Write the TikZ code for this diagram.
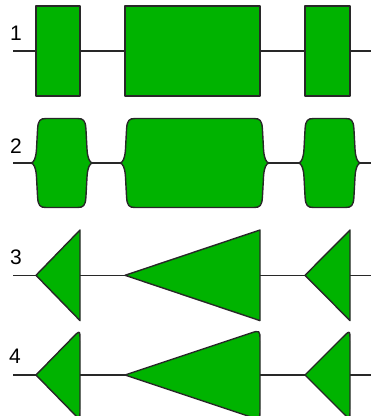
\documentclass[tikz,border=0pt]{standalone}
\usepackage{fontspec}
\setmainfont{Liberation Sans}
\usetikzlibrary{calc}
\definecolor{exgreen}{RGB}{0,179,0}
\definecolor{edgegray}{RGB}{40,40,40}
\tikzset{
  exon/.style={fill=exgreen, draw=edgegray, line width=1.4pt, line join=round},
  intron/.style={draw=edgegray, line width=1.4pt},
  rowlabel/.style={inner sep=0pt, font=\fontsize{21}{21}\selectfont, text=black}
}
% brace-like exon: #1 left tip x, #2 right tip x, #3 top y, #4 bottom y, #5 middle y
\newcommand\braceexon[5]{%
  \path[exon] (#1,#5)
    .. controls ({#1+3},{#5-0.5}) and ({#1+5},{#5-5}) .. ({#1+5.5},{#5-14})
    -- ({#1+6.6},{#3+10}) .. controls ({#1+7.2},{#3+2}) and ({#1+9},{#3}) .. ({#1+15},{#3})
    -- ({#2-15},{#3}) .. controls ({#2-9},{#3}) and ({#2-7.2},{#3+2}) .. ({#2-6.6},{#3+10})
    -- ({#2-5.5},{#5-14}) .. controls ({#2-5},{#5-5}) and ({#2-3},{#5-0.5}) .. (#2,#5)
    .. controls ({#2-3},{#5+0.5}) and ({#2-5},{#5+5}) .. ({#2-5.5},{#5+14})
    -- ({#2-6.6},{#4-10}) .. controls ({#2-7.2},{#4-2}) and ({#2-9},{#4}) .. ({#2-15},{#4})
    -- ({#1+15},{#4}) .. controls ({#1+9},{#4}) and ({#1+7.2},{#4-2}) .. ({#1+6.6},{#4-10})
    -- ({#1+5.5},{#5+14}) .. controls ({#1+5},{#5+5}) and ({#1+3},{#5+0.5}) .. (#1,#5) -- cycle;}
% rounded arrow exon: #1 tip x, #2 right x, #3 mid y, #4 half height
\newcommand\roundarrow[4]{%
  \coordinate (rat) at (#1,#3);
  \coordinate (rau) at (#2,{#3-#4});
  \coordinate (rad) at (#2,{#3+#4});
  \path[exon] (rat) -- ($(rau)!11pt!(rat)$) .. controls (rau) .. ($(rau)!11pt!(rad)$)
    -- ($(rad)!11pt!(rau)$) .. controls (rad) .. ($(rad)!11pt!(rat)$) -- cycle;}
\begin{document}
\begin{tikzpicture}[x=1pt,y=-1pt]
\useasboundingbox (0,0) rectangle (371,416);
% row 1
\node[rowlabel] (l1) at (16,33.5) {1};
\coordinate (a1) at (13,51); \coordinate (b1) at (371,51);
\draw[intron] (a1) -- (b1);
\path[exon] (36,6) rectangle (80,96);
\path[exon] (125,6) rectangle (260,96);
\path[exon] (305,6) rectangle (350,96);
% row 2
\node[rowlabel] (l2) at (16,146) {2};
\coordinate (a2) at (13,163); \coordinate (b2) at (371,163);
\draw[intron] (a2) -- (b2);
\braceexon{31}{92.5}{118.5}{207.5}{163}
\braceexon{120}{269}{118.5}{207.5}{163}
\braceexon{298.5}{360.5}{118.5}{207.5}{163}
% row 3
\node[rowlabel] (l3) at (16,257) {3};
\coordinate (a3) at (13,275.3); \coordinate (b3) at (371,275.3);
\draw[intron] (a3) -- (b3);
\path[exon] (36,275.3) -- (80,230) -- (80,320.6) -- cycle;
\path[exon] (125,275.3) -- (260,230) -- (260,320.6) -- cycle;
\path[exon] (305,275.3) -- (350,230) -- (350,320.6) -- cycle;
% row 4
\node[rowlabel] (l4) at (15,356.5) {4};
\coordinate (a4) at (13,375); \coordinate (b4) at (371,375);
\draw[intron] (a4) -- (b4);
\roundarrow{36}{80}{375}{45}
\roundarrow{125}{260}{375}{45}
\roundarrow{305}{350}{375}{45}
\end{tikzpicture}
\end{document}
